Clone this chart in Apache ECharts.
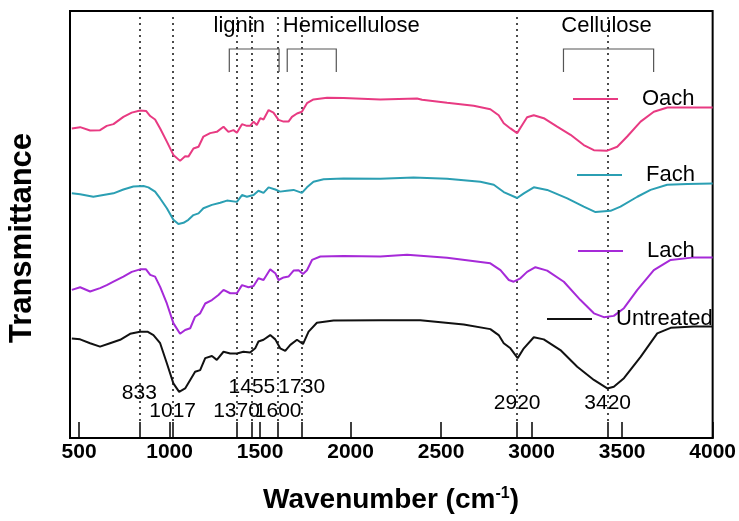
<!DOCTYPE html>
<html>
<head>
<meta charset="utf-8">
<title>FTIR spectra</title>
<script src="https://cdn.jsdelivr.net/npm/echarts@6/dist/echarts.min.js"></script>
<style>
    html, body { margin: 0; padding: 0; background: #fff; }
    #main { width: 739px; height: 521px; }
</style>
</head>
<body>
<div id="main"></div>
<script>
// [wavenumber (cm-1), transmittance (a.u., offset per sample)]
var oach = [[460,72.5],[506,72.8],[561,72.0],[616,72.1],[653,73.1],[690,73.5],[745,75.2],[791,76.2],[837,76.7],[870,76.6],[893,75.4],[920,74.6],[948,72.5],[985,69.4],[1021,66.3],[1058,64.9],[1086,66.0],[1104,65.9],[1132,67.8],[1160,68.2],[1187,70.6],[1224,71.4],[1261,71.7],[1298,72.9],[1325,71.7],[1353,72.1],[1372,71.5],[1400,73.5],[1427,73.1],[1445,73.1],[1464,74.1],[1482,73.3],[1501,74.9],[1519,74.6],[1547,76.8],[1574,76.2],[1602,74.5],[1630,74.1],[1657,74.1],[1676,75.2],[1704,76.0],[1731,76.4],[1759,78.4],[1795,79.3],[1870,79.7],[1961,79.6],[2164,79.3],[2367,79.5],[2395,79.2],[2533,78.5],[2680,77.8],[2772,77.0],[2818,75.6],[2846,73.7],[2883,72.5],[2920,71.4],[2948,73.3],[2975,75.1],[3012,75.6],[3067,74.9],[3141,72.9],[3215,71.0],[3288,68.6],[3344,67.4],[3418,67.3],[3473,68.2],[3528,70.6],[3602,74.1],[3675,76.4],[3750,77.4],[3860,77.4],[4000,77.4]];
var fach = [[460,57.3],[506,57.1],[579,56.5],[634,56.9],[690,57.3],[745,58.2],[800,58.9],[856,59.0],[883,58.7],[920,57.7],[948,56.1],[985,53.8],[1021,51.1],[1049,50.1],[1077,50.4],[1104,51.1],[1132,52.2],[1160,52.6],[1187,53.8],[1234,54.6],[1280,55.1],[1317,55.6],[1372,55.3],[1400,56.9],[1427,56.5],[1464,56.9],[1491,57.9],[1519,57.4],[1547,58.7],[1584,58.2],[1611,57.7],[1648,57.9],[1685,58.1],[1731,57.4],[1759,58.7],[1795,60.0],[1851,60.6],[1961,60.8],[2164,60.7],[2348,61.0],[2533,60.7],[2717,60.0],[2791,59.3],[2846,57.6],[2920,56.2],[2957,57.3],[3012,58.7],[3086,58.1],[3197,56.1],[3288,54.2],[3353,52.9],[3436,53.2],[3491,54.2],[3584,56.5],[3657,58.1],[3749,59.3],[3860,59.5],[4000,59.6]];
var lach = [[460,34.7],[506,35.3],[561,34.3],[616,35.1],[653,35.8],[690,36.6],[745,37.8],[791,38.9],[837,39.5],[870,39.5],[893,38.2],[920,37.8],[948,35.4],[985,31.5],[1021,26.9],[1058,24.4],[1086,25.3],[1114,25.7],[1141,28.4],[1169,29.2],[1197,31.5],[1234,32.3],[1270,33.5],[1298,34.7],[1335,33.9],[1372,33.9],[1400,35.8],[1436,35.3],[1464,35.6],[1491,37.4],[1519,37.0],[1556,39.5],[1584,38.6],[1602,37.0],[1630,37.6],[1657,37.8],[1685,39.2],[1713,39.3],[1737,38.4],[1759,39.3],[1787,41.7],[1833,42.5],[1961,42.6],[2164,42.5],[2312,42.9],[2533,42.2],[2772,40.9],[2828,39.3],[2874,37.0],[2901,36.6],[2938,37.4],[2975,38.9],[3021,40.0],[3086,39.2],[3178,36.6],[3270,32.3],[3344,29.2],[3399,28.3],[3454,28.6],[3510,30.4],[3584,34.7],[3675,39.3],[3768,41.7],[3897,42.3],[4000,42.3]];
var untreated = [[460,23.3],[506,23.1],[561,22.2],[616,21.4],[671,22.2],[727,23.0],[782,24.4],[837,24.9],[878,24.9],[911,24.1],[948,22.2],[985,17.5],[1021,12.8],[1053,10.8],[1086,11.6],[1114,13.6],[1141,15.5],[1169,15.9],[1197,18.7],[1234,19.2],[1261,18.3],[1298,20.2],[1335,19.8],[1372,19.8],[1408,20.2],[1445,20.0],[1473,21.0],[1491,22.6],[1519,23.0],[1556,24.1],[1584,23.1],[1611,21.0],[1639,20.4],[1667,21.8],[1704,23.0],[1737,22.0],[1768,24.9],[1814,27.0],[1906,27.5],[2164,27.6],[2385,27.6],[2625,26.6],[2772,25.5],[2818,24.1],[2846,22.2],[2883,21.0],[2923,18.7],[2957,21.0],[3012,23.6],[3067,23.1],[3159,20.6],[3252,16.7],[3344,13.6],[3418,11.6],[3454,12.0],[3510,14.0],[3602,19.0],[3694,24.5],[3768,25.8],[3897,26.1],[4000,26.1]];

var names = ['Oach', 'Fach', 'Lach', 'Untreated'];
var colors = ['#e83a82', '#2b9fb3', '#a62ad8', '#111111'];

var peaks = [833, 1017, 1370, 1455, 1600, 1730, 2920, 3420];
var tickValues = [500, 833, 1000, 1017, 1370, 1455, 1500, 1600, 1730, 2000, 2500, 2920, 3000, 3420, 3500, 4000];
var tickLabels = [500, 1000, 1500, 2000, 2500, 3000, 3500, 4000];

var groups = ['lignin', 'Hemicellulose', 'Cellulose'];
var groupRanges = [[1330, 1605], [1650, 1921], [3176, 3674]];
var groupTextAt = [1385, 2004, 3414];

var font = "'Liberation Sans', Arial, sans-serif";

// where each peak label sits (y, in axis units)
var peakLabelY = {833: 10.5, 1017: 6.3, 1370: 6.3, 1455: 11.9, 1600: 6.3, 1730: 11.9, 2920: 8.2, 3420: 8.2};

var chart = echarts.init(document.getElementById('main'));

var dotted = peaks.map(function (p) {
    return [{coord: [p, 98.6]}, {coord: [p, 4]}];
});

var series = [oach, fach, lach, untreated].map(function (d, i) {
    var s = {
        name: names[i],
        type: 'line',
        data: d,
        showSymbol: false,
        symbol: 'none',
        lineStyle: {width: 2, color: colors[i]},
        itemStyle: {color: colors[i]},
        z: 3
    };
    if (i === 3) {
        s.markLine = {
            silent: true,
            symbol: 'none',
            label: {show: false},
            lineStyle: {type: [2, 4], width: 1.5, color: '#111'},
            data: dotted,
            z: 1
        };
    }
    return s;
});

// legend: one block per sample, placed to the right
var legendLeft = [568, 572, 573, 542];
var legendY = [95, 171, 247, 315];
var legends = names.map(function (n, i) {
    return {
        data: [n],
        left: legendLeft[i],
        top: legendY[i] - 12,
        icon: 'rect',
        itemWidth: 45,
        itemHeight: 2,
        selectedMode: false,
        textStyle: {fontFamily: font, fontSize: 22, color: '#000', padding: [0, 0, 0, 19]}
    };
});

var option = {
    animation: false,
    backgroundColor: '#fff',
    grid: {left: 70, right: 26, top: 11, bottom: 83, show: true, borderColor: '#000', borderWidth: 2},
    legend: legends,
    xAxis: {
        type: 'value',
        min: 450,
        max: 4000,
        splitLine: {show: false},
        axisLine: {lineStyle: {color: '#000', width: 2}},
        axisTick: {customValues: tickValues, inside: true, length: 16, lineStyle: {color: '#000', width: 1.5}},
        axisLabel: {
            customValues: tickLabels,
            formatter: function (v) { return String(v); },
            color: '#000', fontFamily: font, fontWeight: 'bold', fontSize: 21, margin: 4
        }
    },
    yAxis: {
        type: 'value',
        min: 0,
        max: 100,
        axisLine: {show: false},
        axisTick: {show: false},
        axisLabel: {show: false},
        splitLine: {show: false}
    },
    series: series
};
chart.setOption(option);

function px(x, y) {
    return chart.convertToPixel({gridIndex: 0}, [x, y]);
}

var g = [];
peaks.forEach(function (p) {
    var pt = px(p, peakLabelY[p]);
    g.push({type: 'text', x: pt[0], y: pt[1], z: 10, style: {text: String(p), fontFamily: font, fontSize: 21, fill: '#000', align: 'center', verticalAlign: 'middle'}});
});
groups.forEach(function (name, i) {
    var t = px(groupTextAt[i], 96.5);
    g.push({type: 'text', x: t[0], y: t[1], z: 10, style: {text: name, fontFamily: font, fontSize: 22, fill: '#000', align: 'center', verticalAlign: 'middle'}});
    var a = px(groupRanges[i][0], 85.7), b = px(groupRanges[i][1], 91.1);
    g.push({type: 'polyline', z: 10, shape: {points: [[a[0], a[1]], [a[0], b[1]], [b[0], b[1]], [b[0], a[1]]]}, style: {stroke: '#555', lineWidth: 1.2, fill: null}});
});
g.push({
    type: 'text', x: 391, y: 500, z: 10,
    style: {
        text: '{a|Wavenumber (cm}{s|-1}{a|)}',
        align: 'center', verticalAlign: 'middle',
        rich: {
            a: {fontFamily: font, fontWeight: 'bold', fontSize: 28, fill: '#000'},
            s: {fontFamily: font, fontWeight: 'bold', fontSize: 16, fill: '#000', verticalAlign: 'top', padding: [0, 0, 12, 0]}
        }
    }
});
g.push({
    type: 'text', x: 22, y: 238, rotation: Math.PI / 2, z: 10,
    style: {text: 'Transmittance', fontFamily: font, fontWeight: 'bold', fontSize: 31, fill: '#000', align: 'center', verticalAlign: 'middle'}
});
chart.setOption({graphic: g});
</script>
</body>
</html>
